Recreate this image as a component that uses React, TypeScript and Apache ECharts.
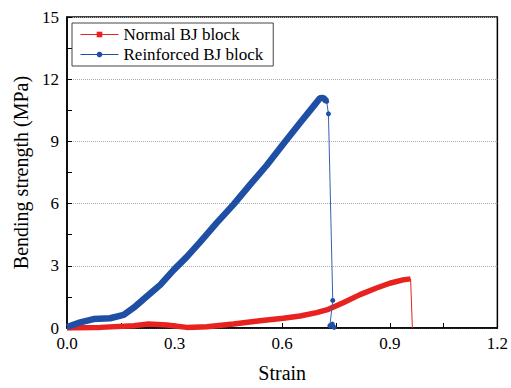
import React, { useEffect, useRef } from "react";
import * as echarts from "echarts";

const normalMain: [number, number][] = [
  [0, 0], [0.093, 0.03], [0.186, 0.11], [0.227, 0.19], [0.278, 0.14], [0.334, 0.03],
  [0.39, 0.06], [0.464, 0.19], [0.538, 0.35], [0.603, 0.47], [0.65, 0.58], [0.696, 0.74],
  [0.729, 0.9], [0.77, 1.22], [0.817, 1.61], [0.863, 1.93], [0.9, 2.16], [0.937, 2.32], [0.958, 2.37],
];
const normalDrop: [number, number][] = [[0.958, 2.37], [0.963, 0]];

const reinforcedMain: [number, number][] = [
  [0, 0.05], [0.037, 0.27], [0.074, 0.43], [0.12, 0.47], [0.158, 0.63], [0.186, 0.98],
  [0.223, 1.53], [0.26, 2.08], [0.297, 2.79], [0.334, 3.43], [0.371, 4.14], [0.418, 5.08],
  [0.464, 5.95], [0.51, 6.9], [0.557, 7.85], [0.603, 8.87], [0.65, 9.9], [0.687, 10.69],
  [0.705, 11.08], [0.715, 11.1], [0.724, 10.93],
];
const reinforcedDrop: [number, number][] = [
  [0.724, 10.93], [0.729, 10.33], [0.741, 1.33], [0.733, 0.11], [0.74, 0.19], [0.745, 0.03],
];

const xTicks = { min: 0, max: 1.2, interval: 0.3 };
const yTicks = { min: 0, max: 15, interval: 3 };

const RED = "#e8221e";
const BLUE = "#1f4fa5";
const FONT = "'Liberation Serif', 'Times New Roman', serif";

export default function App() {
  const ref = useRef<HTMLDivElement>(null);
  useEffect(() => {
    if (!ref.current) return;
    const chart = echarts.init(ref.current, null, { renderer: "svg" });
    chart.setOption({
      animation: false,
      backgroundColor: "#fff",
      textStyle: { fontFamily: FONT },
      grid: {
        left: 67, right: 13, top: 17, bottom: 54,
        show: true, borderColor: "#000", borderWidth: 1.5,
      },
      legend: {
        left: 72, top: 23, orient: "vertical",
        borderColor: "#444", borderWidth: 1,
        padding: [3, 10, 3, 8], itemGap: 3,
        itemWidth: 38, itemHeight: 7,
        textStyle: { fontFamily: FONT, fontSize: 17, color: "#000" },
        data: [
          { name: "Normal BJ block", lineStyle: { width: 1 } },
          { name: "Reinforced BJ block", lineStyle: { width: 1 } },
        ],
      },
      xAxis: {
        type: "value", ...xTicks,
        name: "Strain", nameLocation: "middle", nameGap: 35,
        nameTextStyle: { fontFamily: FONT, fontSize: 20, color: "#000" },
        axisLine: { lineStyle: { color: "#000", width: 1.5 } },
        axisTick: { inside: true, length: 5, lineStyle: { color: "#000" } },
        minorTick: { show: true, splitNumber: 2, length: 5, lineStyle: { color: "#000" } },
        axisLabel: { fontFamily: FONT, fontSize: 17, color: "#000", margin: 7, formatter: (v: number) => v.toFixed(1) },
        splitLine: { show: false },
      },
      yAxis: {
        type: "value", ...yTicks,
        name: "Bending strength (MPa)", nameLocation: "middle", nameGap: 33,
        nameTextStyle: { fontFamily: FONT, fontSize: 20, color: "#000" },
        axisLine: { show: true, lineStyle: { color: "#000", width: 1.5 } },
        axisTick: { show: true, inside: true, length: 5, lineStyle: { color: "#000" } },
        minorTick: { show: true, splitNumber: 2, length: 5, lineStyle: { color: "#000" } },
        axisLabel: { fontFamily: FONT, fontSize: 17, color: "#000", margin: 8 },
        splitLine: { show: true, lineStyle: { color: "#aaa", type: "dotted", width: 1 } },
      },
      series: [
        {
          name: "Normal BJ block", type: "line", data: normalMain,
          symbol: "rect", symbolSize: 6, showSymbol: false,
          itemStyle: { color: RED }, lineStyle: { color: RED, width: 5.5 },
        },
        {
          name: "Normal BJ block", type: "line", data: normalDrop,
          symbol: "none", itemStyle: { color: RED }, lineStyle: { color: RED, width: 1 },
        },
        {
          name: "Reinforced BJ block", type: "line", data: reinforcedMain,
          symbol: "circle", symbolSize: 6, showSymbol: false,
          itemStyle: { color: BLUE }, lineStyle: { color: BLUE, width: 6.5 },
        },
        {
          name: "Reinforced BJ block", type: "line", data: reinforcedDrop,
          symbol: "circle", symbolSize: 5, showSymbol: true,
          itemStyle: { color: BLUE }, lineStyle: { color: "#3a5fb0", width: 1 },
        },
      ],
    });
    return () => chart.dispose();
  }, []);
  return <div ref={ref} style={{ width: 511, height: 388, position: "absolute", left: 0, top: 0 }} />;
}
